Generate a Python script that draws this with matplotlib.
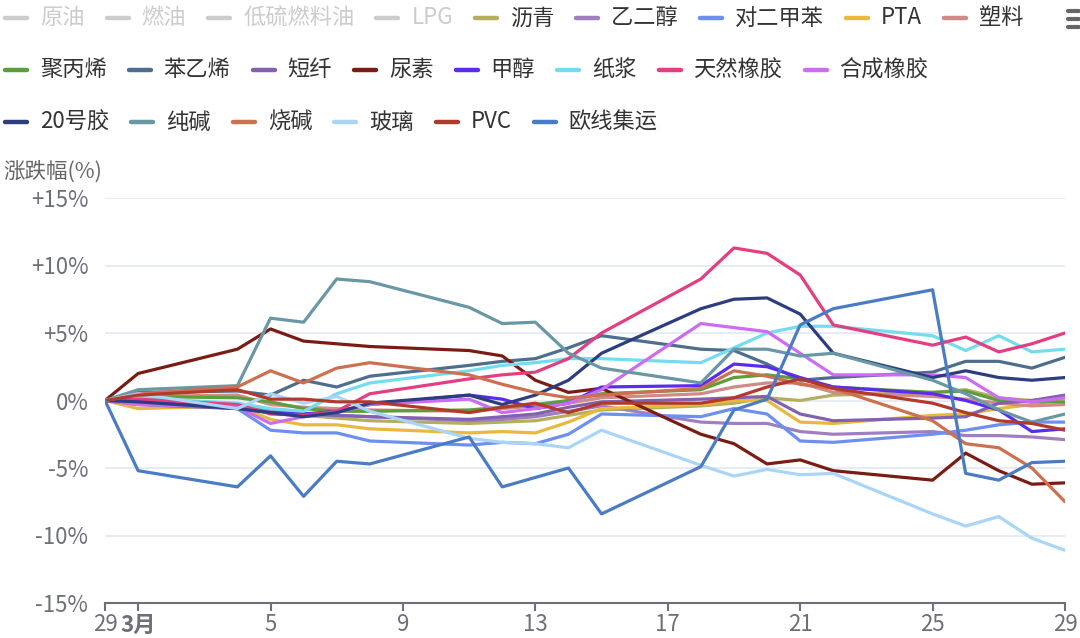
import matplotlib
matplotlib.use("Agg")
import matplotlib.pyplot as plt
import numpy as np

plt.rcParams['font.family'] = ['Noto Sans CJK SC', 'DejaVu Sans']

# ---------------- data ----------------
dates = ["2024-02-29", "2024-03-01", "2024-03-04", "2024-03-05", "2024-03-06", "2024-03-07",
         "2024-03-08", "2024-03-11", "2024-03-12", "2024-03-13", "2024-03-14", "2024-03-15",
         "2024-03-18", "2024-03-19", "2024-03-20", "2024-03-21", "2024-03-22", "2024-03-25",
         "2024-03-26", "2024-03-27", "2024-03-28", "2024-03-29"]

hidden_names = ["原油", "燃油", "低硫燃料油", "LPG"]

liqing   = [0, -0.2, -0.4, -0.8, -1.1, -1.3, -1.5, -1.7, -1.6, -1.5, -1.1, -0.7, -0.4, -0.2, 0.2, 0.0, 0.4, 0.6, 0.8, 0.2, 0.0, 0.2]
yierchun = [0, -0.2, -0.5, -0.8, -1.0, -1.1, -1.2, -1.5, -1.4, -1.2, -0.8, -0.4, -1.6, -1.7, -1.7, -2.3, -2.5, -2.3, -2.6, -2.6, -2.7, -2.9]
px       = [0, -0.2, -0.6, -2.2, -2.4, -2.4, -3.0, -3.3, -3.1, -3.2, -2.5, -1.0, -1.2, -0.6, -1.0, -3.0, -3.1, -2.5, -2.2, -1.8, -1.6, -1.6]
pta      = [0, -0.6, -0.4, -1.4, -1.8, -1.8, -2.1, -2.4, -2.3, -2.4, -1.6, -0.6, -0.3, 0.0, 0.0, -1.6, -1.7, -1.1, -1.0, -0.6, -0.3, 0.2]
suliao   = [0, 0.3, 0.4, -0.3, -0.5, -0.6, -0.7, -0.8, -0.6, -0.4, -0.2, 0.2, 0.5, 1.0, 1.3, 1.3, 0.6, 0.3, 0.1, -0.2, -0.4, -0.3]
jubingxi = [0, 0.3, 0.2, -0.1, -0.6, -0.8, -0.8, -0.7, -0.5, -0.3, 0.0, 0.5, 0.8, 1.7, 1.9, 1.6, 1.0, 0.6, 0.7, 0.0, -0.1, -0.1]
benyixi  = [0, 0.6, 0.7, 0.4, 1.5, 1.0, 1.8, 2.6, 2.9, 3.1, 3.9, 4.8, 3.8, 3.7, 2.7, 1.5, 1.7, 2.1, 2.9, 2.9, 2.4, 3.2]
duanxian = [0, -0.3, -0.6, -0.9, -1.0, -1.1, -1.2, -1.4, -1.2, -1.0, -0.5, -0.1, 0.1, 0.2, 0.3, -1.0, -1.5, -1.3, -1.2, -0.2, 0.0, 0.4]
niaosu   = [0, 2.0, 3.8, 5.3, 4.4, 4.2, 4.0, 3.7, 3.3, 1.5, 0.6, 0.9, -2.5, -3.2, -4.7, -4.4, -5.2, -5.9, -3.9, -5.2, -6.2, -6.1]
jiachun  = [0, -0.1, -0.5, -0.9, -1.0, -0.8, -0.3, 0.4, 0.1, -0.6, -0.2, 1.0, 1.1, 2.7, 2.5, 1.7, 1.0, 0.5, 0.0, -0.7, -2.3, -2.1]
zhijiang = [0, 0.2, -0.2, -0.6, -0.8, 0.5, 1.3, 2.2, 2.6, 2.8, 3.1, 3.1, 2.8, 3.9, 5.0, 5.5, 5.5, 4.8, 3.7, 4.8, 3.6, 3.8]
tianran  = [0, 0.1, -0.3, -1.0, -1.1, -0.8, 0.5, 1.6, 1.9, 2.1, 3.1, 5.0, 9.0, 11.3, 10.9, 9.3, 5.6, 4.1, 4.7, 3.6, 4.2, 5.0]
hecheng  = [0, -0.3, -0.5, -1.7, -1.2, -0.9, -0.3, 0.1, -0.9, -0.6, -0.2, 0.8, 5.7, 5.4, 5.1, 3.5, 1.9, 1.9, 1.7, 0.2, -0.1, 0.2]
hao20    = [0, -0.1, -0.6, -0.9, -1.2, -0.9, -0.2, 0.4, -0.3, 0.4, 1.5, 3.5, 6.8, 7.5, 7.6, 6.4, 3.5, 1.7, 2.2, 1.7, 1.5, 1.7]
chunjian = [0, 0.8, 1.1, 6.1, 5.8, 9.0, 8.8, 6.9, 5.7, 5.8, 3.5, 2.4, 1.3, 3.8, 3.8, 3.3, 3.5, 1.5, 0.5, -0.7, -1.6, -1.0]
shaojian = [0, 0.5, 1.0, 2.2, 1.3, 2.4, 2.8, 1.9, 1.2, 0.6, 0.2, 0.4, 0.9, 2.2, 1.8, 1.2, 0.9, -1.5, -3.2, -3.5, -5.0, -7.5]
boli     = [0, 0.5, -0.6, 0.5, -0.2, 0.3, -0.8, -2.8, -3.1, -3.2, -3.5, -2.2, -4.8, -5.6, -5.1, -5.5, -5.4, -8.4, -9.3, -8.6, -10.2, -11.1]
pvc      = [0, 0.4, 0.8, 0.1, 0.1, -0.1, -0.1, -0.9, -0.5, -0.2, -0.9, -0.2, -0.2, 0.2, 1.0, 1.6, 0.9, -0.2, -0.9, -1.5, -1.7, -2.2]
ouxian   = [0, -5.2, -6.4, -4.1, -7.1, -4.5, -4.7, -2.7, -6.4, -5.7, -5.0, -8.4, -4.9, -0.7, 0.1, 5.6, 6.8, 8.2, -5.4, -5.9, -4.6, -4.5]

series_names = ["沥青", "乙二醇", "对二甲苯", "PTA", "塑料", "聚丙烯", "苯乙烯", "短纤", "尿素", "甲醇",
                "纸浆", "天然橡胶", "合成橡胶", "20号胶", "纯碱", "烧碱", "玻璃", "PVC", "欧线集运"]
series_values = [liqing, yierchun, px, pta, suliao, jubingxi, benyixi, duanxian, niaosu, jiachun,
                 zhijiang, tianran, hecheng, hao20, chunjian, shaojian, boli, pvc, ouxian]

tick_dates = ["2024-02-29", "2024-03-01", "2024-03-05", "2024-03-09", "2024-03-13",
              "2024-03-17", "2024-03-21", "2024-03-25", "2024-03-29"]
tick_labels = ["29", "3月", "5", "9", "13", "17", "21", "25", "29"]
y_ticks = [-15, -10, -5, 0, 5, 10, 15]
y_tick_labels = ["-15%", "-10%", "-5%", "0%", "+5%", "+10%", "+15%"]

# ---------------- style ----------------
colors = ["#b5ae5f", "#9f7fc0", "#6d8ff0", "#e8b93c", "#d08a88", "#5c9e3a", "#4e6e8e", "#8262b0",
          "#7a1c14", "#5a2cf0", "#74dcee", "#e23e80", "#cc6cf2", "#2c3d80", "#6a97a5", "#cc7050",
          "#a8d5f8", "#b23a2c", "#4a7cc6"]
hidden_color = "#cccccc"
axis_color = "#6e7079"
grid_color = "#e0e6f1"

W, H = 1080, 638
fig = plt.figure(figsize=(W / 100, H / 100), dpi=100)
fig.patch.set_facecolor("white")

left_px, right_px, top_px, bottom_px = 105, 1065, 198, 603
ax = fig.add_axes([left_px / W, 1 - bottom_px / H, (right_px - left_px) / W, (bottom_px - top_px) / H])

x = np.array(dates, dtype="datetime64[D]")
for name, vals, c in zip(series_names, series_values, colors):
    ax.plot(x, vals, color=c, lw=2.3, solid_joinstyle="round", solid_capstyle="round", label=name)

ax.set_xlim(np.datetime64(dates[0]), np.datetime64(dates[-1]))
ax.set_ylim(-15, 15)
ax.set_yticks(y_ticks)
ax.set_yticklabels(y_tick_labels)
ax.set_xticks(np.array(tick_dates, dtype="datetime64[D]"))
ax.set_xticklabels(tick_labels)
ax.get_xticklabels()[1].set_fontweight("bold")

for s in ["top", "right", "left"]:
    ax.spines[s].set_visible(False)
ax.spines["bottom"].set_color(axis_color)
ax.spines["bottom"].set_linewidth(1.5)
ax.yaxis.grid(True, color=grid_color, lw=1.1)
ax.set_axisbelow(True)
ax.tick_params(axis="y", length=0, pad=12, labelsize=16, labelcolor=axis_color)
ax.tick_params(axis="x", length=6, width=1.5, color=axis_color, pad=1.5, labelsize=16, labelcolor=axis_color)

fig.text(3 / W, 1 - 173 / H, "涨跌幅(%)", fontsize=15.5, color="#666666", ha="left", va="center")

# ---------------- legend (flow layout) ----------------
lax = fig.add_axes([0, 0, 1, 1])
lax.set_xlim(0, W)
lax.set_ylim(H, 0)
lax.axis("off")
lax.set_zorder(5)

legend_names = hidden_names + series_names
legend_colors = [hidden_color] * len(hidden_names) + colors
legend_text_colors = [hidden_color] * len(hidden_names) + ["#333333"] * len(series_names)
row_breaks = [0, 9, 17, len(legend_names)]
row_y = [18, 70, 122]
renderer = fig.canvas.get_renderer()
for r in range(3):
    xpos = 3
    for i in range(row_breaks[r], row_breaks[r + 1]):
        y = row_y[r]
        lax.plot([xpos + 2, xpos + 24], [y, y], color=legend_colors[i], lw=3.2, solid_capstyle="round")
        t = lax.text(xpos + 37, y, legend_names[i], fontsize=16, color=legend_text_colors[i],
                     ha="left", va="center")
        w = t.get_window_extent(renderer).width
        xpos = xpos + 37 + w + 20

for yy in [11, 19, 27]:
    lax.plot([1068, 1079], [yy, yy], color="#666666", lw=3, solid_capstyle="round")

fig.savefig("out.png", dpi=100)
